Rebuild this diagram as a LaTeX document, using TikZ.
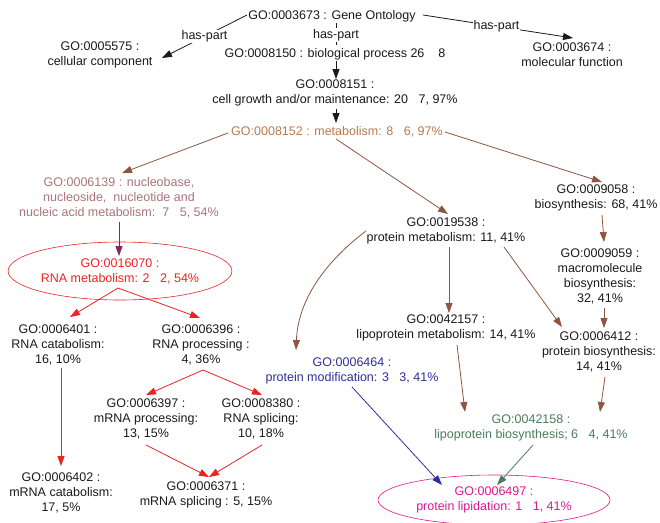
\documentclass[tikz,border=0pt]{standalone}
\usepackage{fontspec}
\setmainfont{Liberation Sans}
\usetikzlibrary{arrows.meta,shapes.geometric,calc}
\definecolor{txtblack}{HTML}{1A1A1A}
\definecolor{metab}{HTML}{B87A4E}
\definecolor{nucl}{HTML}{A97478}
\definecolor{brownarr}{HTML}{8E5540}
\definecolor{purparr}{HTML}{8B2560}
\definecolor{rnared}{HTML}{EE2222}
\definecolor{modblue}{HTML}{2E2E96}
\definecolor{lipgreen}{HTML}{4B7B5B}
\definecolor{lipmag}{HTML}{E2168F}
\newcommand\gp{\hspace{10.5pt}}
\newcommand\gq{\hspace{7pt}}
\begin{document}
\begin{tikzpicture}[x=1pt,y=-1pt,
  every node/.style={font=\fontsize{12.5}{15}\selectfont, text=txtblack},
  term/.style={align=center, inner sep=1pt},
  hp/.style={fill=white, inner sep=1pt},
  arr/.style={line width=0.8pt, -{Triangle[length=10pt,width=7pt]}},
  blk/.style={arr, draw=txtblack},
  brn/.style={arr, draw=brownarr},
  red/.style={arr, draw=rnared},
]
\useasboundingbox (0,0) rectangle (660,522);
% nodes
\node[term] (go3673) at (332,16) {GO:0003673 : Gene Ontology};
\node[term] (go5575) at (100,55) {GO:0005575 :\\cellular component};
\node[term] (go8150) at (335,54) {GO:0008150 : biological process 26\gp\ 8};
\node[term] (go3674) at (572,55) {GO:0003674 :\\molecular function};
\node[term] (go8151) at (335,93) {GO:0008151 :\\cell growth and/or maintenance: 20\gp 7, 97\%};
\node[term, text=metab] (go8152) at (337,132) {GO:0008152 : metabolism: 8\gp 6, 97\%};
\node[term, text=nucl] (go6139) at (119,198) {GO:0006139 : nucleobase,\\nucleoside,\gq nucleotide and\\nucleic acid metabolism:\gq 7\gp 5, 54\%};
\node[term, text=rnared, ellipse, draw=rnared, line width=0.6pt, inner sep=0pt,
      minimum width=218, minimum height=58] (go16070) at (120,271) {GO:0016070 :\\RNA metabolism: 2\gp 2, 54\%};
\node[term] (go6401) at (58,345) {GO:0006401 :\\RNA catabolism:\\16, 10\%};
\node[term] (go6396) at (201,345) {GO:0006396 :\\RNA processing :\\4, 36\%};
\node[term] (go6402) at (61,493) {GO:0006402 :\\mRNA catabolism:\\17, 5\%};
\node[term] (go6397) at (146,419) {GO:0006397 :\\mRNA processing:\\13, 15\%};
\node[term] (go8380) at (261,419) {GO:0008380 :\\RNA splicing:\\10, 18\%};
\node[term] (go6371) at (206,495) {GO:0006371 :\\mRNA splicing : 5, 15\%};
\node[term] (go19538) at (446,231) {GO:0019538 :\\protein metabolism: 11, 41\%};
\node[term] (go9058) at (596,198) {GO:0009058 :\\biosynthesis: 68, 41\%};
\node[term] (go9059) at (600,276) {GO:0009059 :\\macromolecule\\biosynthesis:\\32, 41\%};
\node[term] (go42157) at (446,328) {GO:0042157 :\\lipoprotein metabolism: 14, 41\%};
\node[term] (go6412) at (599,352) {GO:0006412 :\\protein biosynthesis:\\14, 41\%};
\node[term, text=modblue] (go6464) at (352,371) {GO:0006464 :\\protein modification: 3\gp 3, 41\%};
\node[term, text=lipgreen] (go42158) at (531,428) {GO:0042158 :\\lipoprotein biosynthesis; 6\gp 4, 41\%};
\node[term, text=lipmag, ellipse, draw=lipmag, line width=0.6pt, inner sep=0pt,
      minimum width=232, minimum height=50] (go6497) at (494,500) {GO:0006497 :\\protein lipidation: 1\gp 1, 41\%};
% has-part connectors
\draw[blk] ($(go3673)+(-85,-1)$) -- node[hp, pos=0.5] (hp1) {has-part} ($(go5575)+(62,3)$);
\draw[line width=0.8pt, draw=txtblack] ($(go3673)+(4,7)$) -- node[hp, pos=0.545] (hp2) {has-part} ($(go8150)+(1,-9)$);
\draw[blk] ($(go3673)+(91,-1)$) -- node[hp, pos=0.49] (hp3) {has-part} ($(go3674)+(1,-17)$);
% black is-a
\draw[blk] ($(go8150)+(1,7)$) -- ($(go8151)+(1,-14)$);
\draw[blk] ($(go8151)+(1,16)$) -- ($(go8152)+(-1,-9)$);
% brown
\draw[brn] ($(go8152)+(-109,1)$) -- ($(go6139)+(3,-25)$);
\draw[brn] ($(go8152)+(-1,7)$) -- ($(go19538)+(2,-17)$);
\draw[brn] ($(go8152)+(108,0)$) -- ($(go9058)+(6,-16)$);
\draw[brn] ($(go19538)+(-80,0)$) .. controls (325,262) and (298,300) .. ($(go6464)+(-56,-21)$);
\draw[brn] ($(go19538)+(3,16)$) -- ($(go42157)+(3,-15)$);
\draw[brn] ($(go19538)+(58,16)$) -- ($(go6412)+(-37,-25)$);
\draw[brn] ($(go9058)+(6,17)$) -- ($(go9059)+(4,-34)$);
\draw[brn] ($(go9059)+(4,32)$) -- ($(go6412)+(5,-24)$);
\draw[brn] ($(go42157)+(11,17)$) -- ($(go42158)+(-66,-16)$);
\draw[brn] ($(go6412)+(6,25)$) -- ($(go42158)+(69,-16)$);
% purple
\draw[arr, draw=purparr] ($(go6139)+(0,24)$) -- ($(go16070)+(-1,-15)$);
% red
\draw[red] ($(go16070)+(-2,17)$) -- ($(go6401)+(12,-28)$);
\draw[red] ($(go16070)+(-2,17)$) -- ($(go6396)+(-1,-27)$);
\draw[red] ($(go6401)+(3,23)$) -- ($(go6402)+(0,-27)$);
\draw[red] ($(go6396)+(2,25)$) -- ($(go6397)+(0,-24)$);
\draw[red] ($(go6396)+(2,25)$) -- ($(go8380)+(1,-24)$);
\draw[red] ($(go6397)+(0,26)$) -- ($(go6371)+(3,-18)$);
\draw[red] ($(go8380)+(1,26)$) -- ($(go6371)+(3,-18)$);
% blue, green
\draw[arr, draw=modblue] ($(go6464)+(0,16)$) -- ($(go6497)+(-52,-15)$);
\draw[arr, draw=lipgreen] ($(go42158)+(2,17)$) -- ($(go6497)+(3,-15)$);
\end{tikzpicture}
\end{document}
